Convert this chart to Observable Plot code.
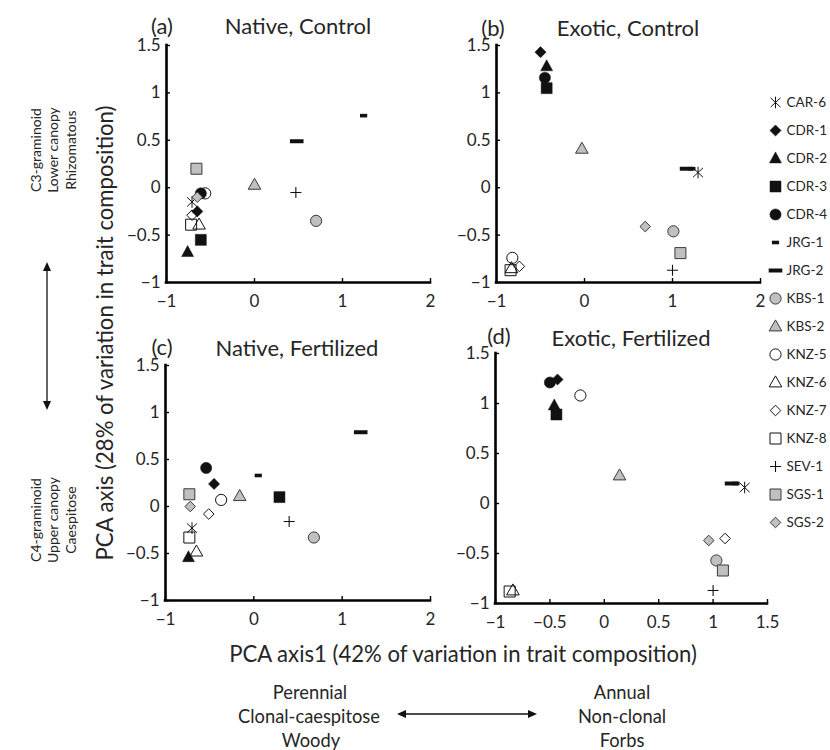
<!DOCTYPE html>
<html><head><meta charset="utf-8">
<script src="https://cdn.jsdelivr.net/npm/d3@7"></script>
<script src="https://cdn.jsdelivr.net/npm/@observablehq/plot@0.6"></script>
<style>
html,body{margin:0;padding:0;background:#fff;}
#wrap{position:relative;width:830px;height:750px;font-family:Lato,"Open Sans",sans-serif;overflow:hidden;}
#wrap svg{position:absolute;overflow:visible;}
</style></head><body><div id="wrap"></div>
<script>
// ---------------- data ----------------
const sites = ["CAR-6","CDR-1","CDR-2","CDR-3","CDR-4","JRG-1","JRG-2","KBS-1","KBS-2","KNZ-5","KNZ-6","KNZ-7","KNZ-8","SEV-1","SGS-1","SGS-2"];

const nativeControlX = [-0.71,-0.65,-0.76,-0.61,-0.61, 1.24, 0.48, 0.70, 0.00,-0.56,-0.63,-0.71,-0.72, 0.47,-0.66,-0.65];
const nativeControlY = [-0.15,-0.25,-0.68,-0.55,-0.06, 0.76, 0.49,-0.35, 0.03,-0.06,-0.39,-0.29,-0.39,-0.05, 0.20,-0.10];

const exoticControlX = [ 1.29,-0.50,-0.43,-0.43,-0.45, 1.22, 1.16, 1.01,-0.03,-0.82,-0.83,-0.74,-0.84, 1.00, 1.09, 0.69];
const exoticControlY = [ 0.16, 1.43, 1.28, 1.05, 1.16, 0.20, 0.20,-0.46, 0.41,-0.74,-0.85,-0.83,-0.87,-0.87,-0.69,-0.41];

const nativeFertX = [-0.70,-0.45,-0.74, 0.29,-0.54, 0.05, 1.21, 0.68,-0.16,-0.37,-0.65,-0.51,-0.73, 0.40,-0.73,-0.72];
const nativeFertY = [-0.23, 0.24,-0.54, 0.10, 0.41, 0.33, 0.79,-0.33, 0.11, 0.07,-0.48,-0.08,-0.33,-0.16, 0.13, 0.00];

const exoticFertX = [ 1.29,-0.43,-0.46,-0.44,-0.50, 1.21, 1.17, 1.03, 0.14,-0.22,-0.84, 1.11,-0.87, 1.00, 1.09, 0.96];
const exoticFertY = [ 0.16, 1.24, 0.98, 0.89, 1.21, 0.20, 0.20,-0.57, 0.28, 1.08,-0.87,-0.35,-0.88,-0.87,-0.67,-0.37];

const yTicks = [-1,-0.5,0,0.5,1,1.5];
const xTicksWide = [-1,0,1,2];
const xTicksNarrow = [-1,-0.5,0,0.5,1,1.5];

// ---------------- symbols ----------------
const sq = h => ({draw(c){c.moveTo(-h,-h);c.lineTo(h,-h);c.lineTo(h,h);c.lineTo(-h,h);c.closePath();}});
const circ = r => ({draw(c){c.moveTo(r,0);c.arc(0,0,r,0,2*Math.PI);c.closePath();}});
const tri = (w,h) => ({draw(c){c.moveTo(0,-h*0.6);c.lineTo(w,h*0.4);c.lineTo(-w,h*0.4);c.closePath();}});
const dia = h => ({draw(c){c.moveTo(0,-h);c.lineTo(h,0);c.lineTo(0,h);c.lineTo(-h,0);c.closePath();}});
const bar = (w,h) => ({draw(c){c.moveTo(-w,-h);c.lineTo(w,-h);c.lineTo(w,h);c.lineTo(-w,h);c.closePath();}});
const plus = r => ({draw(c){c.moveTo(-r,0);c.lineTo(r,0);c.moveTo(0,-r);c.lineTo(0,r);}});
const aster = r => ({draw(c){c.moveTo(0,-r);c.lineTo(0,r);c.moveTo(-r*0.85,-r*0.8);c.lineTo(r*0.85,r*0.8);c.moveTo(-r*0.85,r*0.8);c.lineTo(r*0.85,-r*0.8);}});

const BLK = "#111", GRY = "#c0c0c0", EDGE = "#3a3a3a";
const styles = {
  "CAR-6": {symbol: aster(5.8), fill: "none", stroke: BLK, strokeWidth: 1},
  "CDR-1": {symbol: dia(5.6), fill: BLK, stroke: BLK, strokeWidth: 0.5},
  "CDR-2": {symbol: tri(6, 11), fill: BLK, stroke: BLK, strokeWidth: 0.5},
  "CDR-3": {symbol: sq(5.5), fill: BLK, stroke: BLK, strokeWidth: 0.5},
  "CDR-4": {symbol: circ(5.6), fill: BLK, stroke: BLK, strokeWidth: 0.5},
  "JRG-1": {symbol: bar(3.6, 1.8), fill: BLK, stroke: "none"},
  "JRG-2": {symbol: bar(6.8, 2), fill: BLK, stroke: "none"},
  "KBS-1": {symbol: circ(5.6), fill: GRY, stroke: EDGE, strokeWidth: 1},
  "KBS-2": {symbol: tri(6.3, 11), fill: GRY, stroke: EDGE, strokeWidth: 1},
  "KNZ-5": {symbol: circ(5.6), fill: "none", stroke: BLK, strokeWidth: 1},
  "KNZ-6": {symbol: tri(6.3, 11), fill: "none", stroke: BLK, strokeWidth: 1},
  "KNZ-7": {symbol: dia(5.3), fill: "none", stroke: BLK, strokeWidth: 1},
  "KNZ-8": {symbol: sq(5.5), fill: "none", stroke: BLK, strokeWidth: 1},
  "SEV-1": {symbol: plus(5.5), fill: "none", stroke: BLK, strokeWidth: 1.1},
  "SGS-1": {symbol: sq(5.5), fill: GRY, stroke: EDGE, strokeWidth: 1},
  "SGS-2": {symbol: dia(5.3), fill: GRY, stroke: EDGE, strokeWidth: 1}
};

const wrap = document.getElementById("wrap");
const fmt = d3.format("~g");
const TEXT = "#262626";

function panel(xs, ys, xDomain, xTicks, x0, x1, y0, y1) {
  const mL = 55, mR = 16, mT = 12, mB = 36;
  const data = sites.map((s, i) => ({site: s, x: xs[i], y: ys[i]}));
  const svg = Plot.plot({
    width: mL + (x1 - x0) + mR,
    height: mT + (y1 - y0) + mB,
    marginLeft: mL, marginRight: mR, marginTop: mT, marginBottom: mB,
    x: {domain: xDomain},
    y: {domain: [-1, 1.5]},
    style: {background: "transparent", overflow: "visible", fontFamily: "Lato, 'Open Sans', sans-serif", fontSize: "17px", color: TEXT},
    marks: [
      Plot.axisY({ticks: yTicks, tickSize: 0, tickPadding: 6, tickFormat: fmt, label: null, fontSize: 17}),
      Plot.axisY({ticks: yTicks, tickSize: -4, tickFormat: () => "", label: null, stroke: "#000", strokeWidth: 1.4}),
      Plot.axisX({ticks: xTicks, tickSize: 0, tickPadding: 12, tickFormat: fmt, label: null, fontSize: 17}),
      Plot.axisX({ticks: xTicks, tickSize: -4, tickFormat: () => "", label: null, stroke: "#000", strokeWidth: 1.4}),
      Plot.ruleX([xDomain[0]], {stroke: "#000", strokeWidth: 2.6, strokeLinecap: "square"}),
      Plot.ruleY([-1], {stroke: "#000", strokeWidth: 2.6, strokeLinecap: "square"}),
      ...sites.map(s => Plot.dot(data.filter(d => d.site === s), {x: "x", y: "y", r: 5, ...styles[s]}))
    ]
  });
  svg.style.left = (x0 - mL) + "px";
  svg.style.top = (y0 - mT) + "px";
  wrap.appendChild(svg);
}

panel(nativeControlX, nativeControlY, [-1, 2], xTicksWide, 166, 430, 45, 282);
panel(exoticControlX, exoticControlY, [-1, 2], xTicksWide, 496, 760, 45, 282);
panel(nativeFertX, nativeFertY, [-1, 2], xTicksWide, 165, 430, 365, 600);
panel(exoticFertX, exoticFertY, [-1, 1.5], xTicksNarrow, 495, 767, 353, 603);

// ---------------- legend ----------------
const lg = Plot.plot({
  width: 56, height: 10 + 15 * 28 + 10,
  marginLeft: 10, marginRight: 0, marginTop: 10, marginBottom: 10,
  y: {type: "point", domain: sites, padding: 0, axis: null},
  style: {background: "transparent", overflow: "visible", fontFamily: "Lato, 'Open Sans', sans-serif", color: TEXT},
  marks: [
    ...sites.map(s => Plot.dot([s], {y: d => d, frameAnchor: "left", r: 5, ...styles[s]})),
    Plot.text(sites, {y: d => d, text: d => d, frameAnchor: "left", dx: 11, textAnchor: "start", fontSize: 13.5, fill: TEXT})
  ]
});
lg.style.left = "765px"; lg.style.top = (102 - 10) + "px";
wrap.appendChild(lg);

// ---------------- text overlay ----------------
const ov = d3.select(wrap).append("svg")
  .attr("width", 830).attr("height", 750)
  .style("left", "0px").style("top", "0px")
  .style("font-family", "Lato, 'Open Sans', sans-serif")
  .style("pointer-events", "none");

function txt(s, x, y, size, rot = 0) {
  return ov.append("text")
    .attr("text-anchor", "middle").attr("dominant-baseline", "central")
    .attr("font-size", size).attr("fill", TEXT)
    .attr("transform", `translate(${x},${y}) rotate(${rot})`)
    .text(s);
}
function fit(t, target) {
  const base = +t.attr("font-size");
  const len = t.node().getComputedTextLength();
  const fs = base * target / len;
  t.attr("font-size", fs);
  return fs;
}

// panel titles
const TS = 22;
txt("(a)", 162, 25, TS); txt("Native, Control", 298, 25, TS);
txt("(b)", 493, 27, TS); txt("Exotic, Control", 628, 27, TS);
txt("(c)", 162, 346, TS); txt("Native, Fertilized", 297, 347, TS);
txt("(d)", 499, 335, TS); txt("Exotic, Fertilized", 631, 337, TS);

// axis titles
const yt = txt("PCA axis (28% of variation in trait composition)", 104, 333, 20, -90);
const afs = fit(yt, 455);
txt("PCA axis1 (42% of variation in trait composition)", 463, 653, afs);

// horizontal descriptors
const cl = txt("Clonal-caespitose", 309, 716, 17);
const hfs = fit(cl, 142);
txt("Perennial", 310, 692, hfs); txt("Woody", 311, 740, hfs);
txt("Annual", 622, 692, hfs); txt("Non-clonal", 622, 716, hfs); txt("Forbs", 622, 740, hfs);

// vertical descriptors
const c3 = txt("C3-graminoid", 35, 150, 15, -90);
const vfs = fit(c3, 84);
txt("Lower canopy", 52, 150, vfs, -90); txt("Rhizomatous", 70, 150, vfs, -90);
txt("C4-graminoid", 35, 520, vfs, -90); txt("Upper canopy", 52, 520, vfs, -90); txt("Caespitose", 70, 520, vfs, -90);

// double arrows
function dblArrow(xa, ya, xb, yb) {
  const ang = Math.atan2(yb - ya, xb - xa);
  const L = 9, W = 4;
  const head = (x, y, a) => {
    const bx = x - L * Math.cos(a), by = y - L * Math.sin(a);
    const px = -Math.sin(a) * W, py = Math.cos(a) * W;
    return `M${x},${y}L${bx + px},${by + py}L${bx - px},${by - py}Z`;
  };
  ov.append("line").attr("x1", xa + 6 * Math.cos(ang)).attr("y1", ya + 6 * Math.sin(ang))
    .attr("x2", xb - 6 * Math.cos(ang)).attr("y2", yb - 6 * Math.sin(ang))
    .attr("stroke", "#111").attr("stroke-width", 1.3);
  ov.append("path").attr("d", head(xb, yb, ang) + head(xa, ya, ang + Math.PI)).attr("fill", "#111");
}
dblArrow(397, 714, 537, 714);
dblArrow(47, 262, 47, 410);
</script></body></html>
